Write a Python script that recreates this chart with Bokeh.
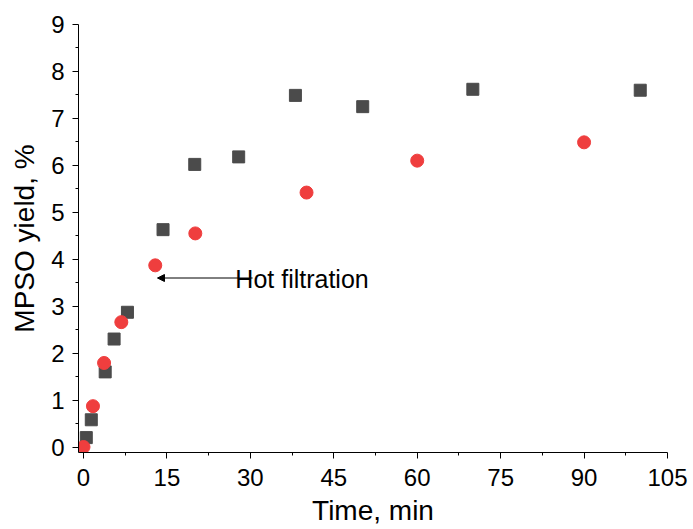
from bokeh.plotting import figure
from bokeh.models import FixedTicker, Arrow, NormalHead, Label, Range1d
from bokeh.embed import file_html
from bokeh.resources import INLINE

# Data
sq_time = [0.5, 1.4, 3.9, 5.5, 7.9, 14.3, 20.0, 27.9, 38.1, 50.2, 70.0, 100.1]
sq_yield = [0.2, 0.58, 1.6, 2.3, 2.87, 4.63, 6.02, 6.18, 7.49, 7.25, 7.62, 7.6]
ci_time = [0.0, 1.7, 3.7, 6.8, 12.9, 20.1, 40.1, 60.0, 90.0]
ci_yield = [0.0, 0.87, 1.79, 2.66, 3.87, 4.55, 5.42, 6.1, 6.49]
x_ticks = [0, 15, 30, 45, 60, 75, 90, 105]
y_ticks = [0, 1, 2, 3, 4, 5, 6, 7, 8, 9]
arrow_tail = (30.4, 3.60)
arrow_tip = (13.3, 3.60)
label_pos = (27.3, 3.57)
annotation = "Hot filtration"

FONT = "Liberation Sans"

p = figure(width=693, height=529, output_backend="svg", toolbar_location=None,
           x_range=Range1d(-0.9, 105), y_range=Range1d(-0.117, 9),
           min_border_left=78, min_border_right=26, min_border_top=24, min_border_bottom=77)
p.outline_line_color = None
p.grid.visible = False
p.background_fill_color = "white"
p.border_fill_color = "white"

p.xaxis.ticker = FixedTicker(ticks=x_ticks, minor_ticks=[t + 7.5 for t in x_ticks[:-1]])
p.yaxis.ticker = FixedTicker(ticks=y_ticks, minor_ticks=[t + 0.5 for t in y_ticks[:-1]])
for ax in (p.xaxis, p.yaxis):
    ax.axis_line_color = "black"
    ax.major_tick_line_color = "black"
    ax.minor_tick_line_color = "black"
    ax.major_tick_out = 6
    ax.major_tick_in = 0
    ax.minor_tick_out = 3
    ax.minor_tick_in = 0
    ax.major_label_text_font = FONT
    ax.major_label_text_font_size = "24px"
    ax.major_label_text_color = "black"
    ax.axis_label_text_font = FONT
    ax.axis_label_text_font_size = "28px"
    ax.axis_label_text_font_style = "normal"
    ax.axis_label_text_color = "black"
p.xaxis.axis_label = "Time, min"
p.yaxis.axis_label = "MPSO yield, %"
p.xaxis.major_label_text_line_height = 1.0
p.xaxis.axis_label_text_line_height = 1.0
p.xaxis.major_label_standoff = 10
p.yaxis.major_label_standoff = 8
p.xaxis.axis_label_standoff = 6
p.yaxis.axis_label_standoff = 8

p.scatter(sq_time, sq_yield, marker="square", size=12, fill_color="#4b4b4b", line_color="#4b4b4b")
p.scatter(ci_time, ci_yield, marker="circle", size=13, fill_color="#ef3e3e", line_color="#ef3e3e")

p.add_layout(Arrow(end=NormalHead(size=7, fill_color="black", line_color="black", line_width=1),
                   x_start=arrow_tail[0], y_start=arrow_tail[1], x_end=arrow_tip[0], y_end=arrow_tip[1],
                   line_color="black", line_width=1))
p.add_layout(Label(x=label_pos[0], y=label_pos[1], text=annotation, text_font=FONT, text_font_size="25px",
                   text_baseline="middle", text_align="left", text_color="black"))

open("out.html", "w").write(file_html(p, INLINE))
